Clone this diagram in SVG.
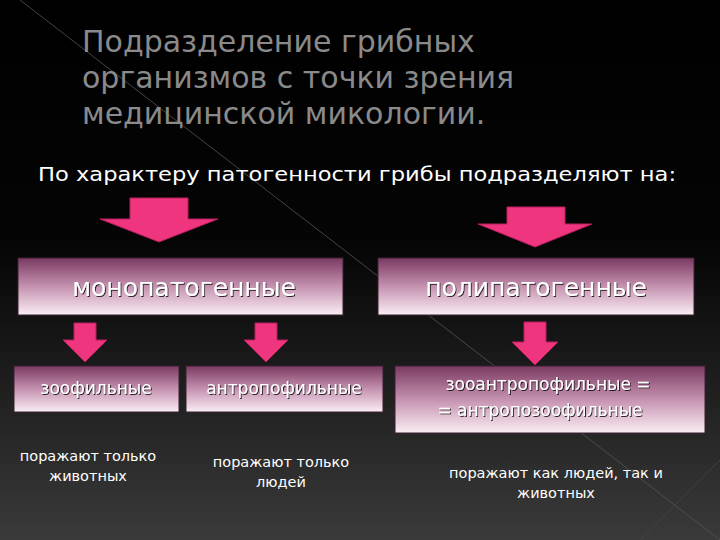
<svg xmlns="http://www.w3.org/2000/svg" width="720" height="540" viewBox="0 0 720 540">
<defs>
<linearGradient id="bg" x1="0" y1="0" x2="0" y2="1"><stop offset="0" stop-color="#000"/><stop offset="0.45" stop-color="#050505"/><stop offset="1" stop-color="#3a3a3a"/></linearGradient>
<linearGradient id="bx" x1="0" y1="0" x2="0" y2="1"><stop offset="0" stop-color="#7b3a62"/><stop offset="0.5" stop-color="#c592b0"/><stop offset="1" stop-color="#fbeef5"/></linearGradient>
<filter id="sh"><feDropShadow dx="1" dy="1" stdDeviation="0.6" flood-color="#000" flood-opacity="0.8"/></filter>
<style>
.t{font-family:"DejaVu Sans",sans-serif;fill:#8a8a8a}
.s{font-family:"DejaVu Sans",sans-serif;fill:#fff}
.b{fill:url(#bx);stroke:#3a2030;stroke-width:1}
.bt{font-family:"DejaVu Sans",sans-serif;fill:#fff;text-anchor:middle;filter:url(#sh)}
.ar{fill:#f0357f;stroke:#b81e5e;stroke-width:1}
.d{font-family:"DejaVu Sans",sans-serif;fill:#fff;font-size:14.5px;text-anchor:middle}
</style>
</defs>
<rect width="720" height="540" fill="url(#bg)"/>
<line x1="20" y1="0" x2="720" y2="540" stroke="#555" stroke-width="0.8"/>
<line x1="640" y1="540" x2="720" y2="460" stroke="#444" stroke-width="0.8"/>
<g id="title">
<text class="t" x="82" y="52" font-size="30">Подразделение грибных</text>
<text class="t" x="82" y="88" font-size="30">организмов с точки зрения</text>
<text class="t" x="82" y="124" font-size="30">медицинской микологии.</text>
</g>
<text class="s" x="38" y="181" font-size="20" textLength="638" lengthAdjust="spacingAndGlyphs">По характеру патогенности грибы подразделяют на:</text>
<g id="connectors">
<path class="ar" d="M130 198H188V219H218L159 242L100 219H130Z"/>
<path class="ar" d="M507 207H565V224H592L535 247L478 224H507Z"/>
<path class="ar" d="M74 323H96V340H107L85 362L63 340H74Z"/>
<path class="ar" d="M255 323H277V340H288L266 362L244 340H255Z"/>
<path class="ar" d="M524 322H546V342H558L535 365L512 342H524Z"/>
</g>
<g id="mono"><rect class="b" x="18" y="258" width="325" height="57"/><text class="bt" x="184" y="296" font-size="25">монопатогенные</text></g>
<g id="poli"><rect class="b" x="378" y="258" width="316" height="57"/><text class="bt" x="536" y="296" font-size="25">полипатогенные</text></g>
<g id="zoo"><rect class="b" x="14" y="366" width="165" height="46"/><text class="bt" x="96" y="394" font-size="17">зоофильные</text><text class="d" x="88" y="461">поражают только</text><text class="d" x="88" y="481">животных</text></g>
<g id="antro"><rect class="b" x="186" y="366" width="197" height="46"/><text class="bt" x="284" y="394" font-size="17">антропофильные</text><text class="d" x="281" y="467">поражают только</text><text class="d" x="281" y="487">людей</text></g>
<g id="zooantro"><rect class="b" x="395" y="366" width="310" height="67"/><text class="bt" x="548" y="390" font-size="17">зооантропофильные =</text><text class="bt" x="540" y="416" font-size="17">= антропозоофильные</text><text class="d" x="556" y="478">поражают как людей, так и</text><text class="d" x="556" y="498">животных</text></g>
</svg>
